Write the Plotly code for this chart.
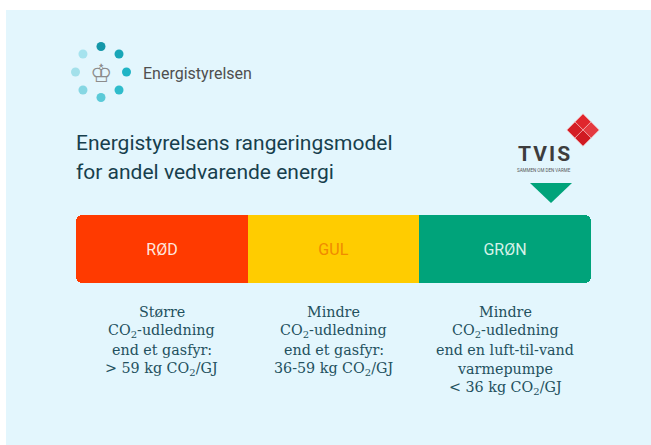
import math
import plotly.graph_objects as go

W, H = 651, 445

# ---- data ----
categories = ["RØD", "GUL", "GRØN"]
segment_width = [1, 1, 1]
bar_colors = ["#FF3A00", "#FFCC00", "#00A37A"]
label_colors = ["#FFE6DE", "#F08A00", "#D6F2E8"]
descriptions = [
    ["Større", "CO<sub>2</sub>-udledning", "end et gasfyr:", "&gt; 59 kg CO<sub>2</sub>/GJ"],
    ["Mindre", "CO<sub>2</sub>-udledning", "end et gasfyr:", "36-59 kg CO<sub>2</sub>/GJ"],
    ["Mindre", "CO<sub>2</sub>-udledning", "end en luft-til-vand", "varmepumpe", "&lt; 36 kg CO<sub>2</sub>/GJ"],
]
title_lines = ["Energistyrelsens rangeringsmodel", "for andel vedvarende energi"]
logo_text = "Energistyrelsen"
logo_dot_colors = ["#1497A8", "#18A6B7", "#20B4C5", "#2FBCCB", "#5ACAD8", "#86D7E3", "#A3E0EA", "#A6E3EE"]
logo_dot_angles = [90, 45, 0, -45, -90, -135, 180, 135]


def px(x):
    return x / W


def py(y):
    return 1 - y / H


fig = go.Figure()

# stacked segments: first segment extends left of zero so both outer ends get rounded
bases = []
run_pos = 0.0
for i, w in enumerate(segment_width):
    if i == 0:
        bases.append(-w)
    else:
        bases.append(run_pos)
        run_pos += w
signed = [-segment_width[0]] + segment_width[1:]
for i, cat in enumerate(categories):
    fig.add_trace(go.Bar(
        x=[signed[i]], y=[0], orientation="h", width=1,
        marker=dict(color=bar_colors[i], line=dict(width=0)),
        text=[cat], textposition="inside", insidetextanchor="middle",
        textangle=0,
        textfont=dict(family="Roboto", size=16, color=label_colors[i]),
        hoverinfo="skip", showlegend=False, xaxis="x", yaxis="y",
    ))

x_min = -segment_width[0]
x_max = sum(segment_width[1:])

# description text under each segment (positioned on the bar scale)
line_y0 = 312
line_step = 19.1
for i, lines in enumerate(descriptions):
    cx = bases[i] + segment_width[i] / 2
    for j, ln in enumerate(lines):
        fig.add_annotation(
            x=cx, xref="x", y=py(line_y0 + j * line_step), yref="paper",
            text=ln, showarrow=False, xanchor="center", yanchor="middle",
            font=dict(family="DejaVu Serif", size=14.3, color="#23515E"),
        )

# title
for j, ln in enumerate(title_lines):
    fig.add_annotation(
        x=px(74), y=py(143 + j * 29), xref="paper", yref="paper",
        text=ln, showarrow=False, xanchor="left", yanchor="middle",
        font=dict(family="Roboto", size=21, color="#173F4D"),
    )

# logo
cxl, cyl, r = 101, 72, 25.5
dx = [cxl + r * math.cos(math.radians(a)) for a in logo_dot_angles]
dy = [cyl - r * math.sin(math.radians(a)) for a in logo_dot_angles]
fig.add_trace(go.Scatter(
    x=dx, y=dy, mode="markers", xaxis="x2", yaxis="y2",
    marker=dict(size=9, color=logo_dot_colors, line=dict(width=0)),
    hoverinfo="skip", showlegend=False,
))
fig.add_annotation(x=cxl, y=cyl + 1, xref="x2", yref="y2", text="♔", showarrow=False,
                   font=dict(family="DejaVu Sans", size=25, color="#8C8C8C"))
fig.add_annotation(x=141, y=73, xref="x2", yref="y2", text=logo_text, showarrow=False,
                   xanchor="left", yanchor="middle",
                   font=dict(family="Roboto", size=16, color="#4F4F4F"))

# TVIS logo
fig.add_annotation(x=544, y=154, xref="x2", yref="y2", text="<b>T\u200aV\u200aI\u200aS</b>",
                   showarrow=False, xanchor="center", yanchor="middle",
                   font=dict(family="Roboto", size=21, color="#3D3D3D"))
fig.add_annotation(x=544, y=170, xref="x2", yref="y2", text="SAMMEN OM DEN VARME", showarrow=False,
                   xanchor="center", yanchor="middle",
                   font=dict(family="Roboto", size=4.5, color="#555555"))
dia_x = [583, 575, 591, 583]
dia_y = [122, 130, 130, 138]
fig.add_trace(go.Scatter(
    x=dia_x, y=dia_y, mode="markers", xaxis="x2", yaxis="y2",
    marker=dict(symbol="diamond", size=12.5, color=["#E0262D", "#D41E25", "#E43A40", "#D01A22"],
                line=dict(width=0.8, color="#F3B8BA")),
    hoverinfo="skip", showlegend=False,
))

shapes = [
    dict(type="rect", xref="paper", yref="paper", x0=px(6), x1=1, y0=0, y1=py(10),
         fillcolor="#E3F6FD", line=dict(width=0), layer="below"),
    dict(type="path", xref="x2", yref="y2", path="M530,183 L572,183 L551,203 Z",
         fillcolor="#00A37A", line=dict(width=0)),
]

fig.update_layout(
    width=W, height=H, margin=dict(l=0, r=0, t=0, b=0),
    paper_bgcolor="white", plot_bgcolor="rgba(0,0,0,0)",
    barmode="relative", bargap=0, barcornerradius=6,
    shapes=shapes,
    xaxis=dict(domain=[px(76), px(591)], range=[x_min, x_max], visible=False, fixedrange=True),
    yaxis=dict(domain=[py(283), py(215)], range=[-0.5, 0.5], visible=False, fixedrange=True),
    xaxis2=dict(domain=[0, 1], range=[0, W], visible=False, anchor="y2", fixedrange=True),
    yaxis2=dict(domain=[0, 1], range=[H, 0], visible=False, anchor="x2", fixedrange=True),
)

fig.write_html("out.html", config={"displayModeBar": False},
               post_script="document.body.style.margin='0';")
